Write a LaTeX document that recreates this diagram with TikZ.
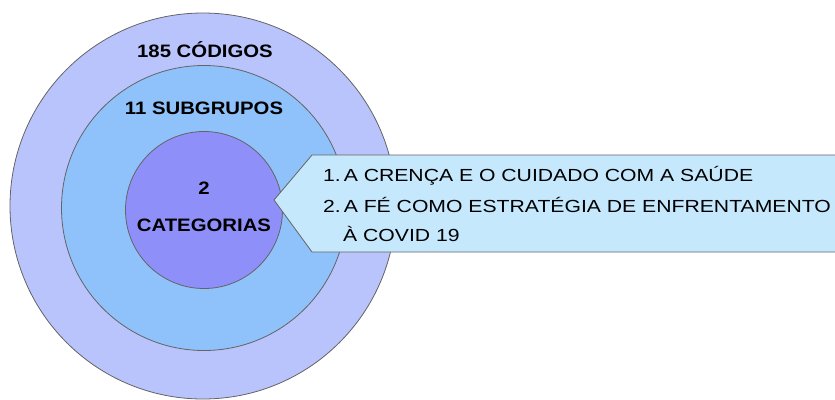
\documentclass[tikz,border=0pt]{standalone}
\usepackage{fontspec}
\setmainfont{Liberation Sans}
\newfontfamily\widefont[FakeStretch=1.21]{Liberation Sans}
\newfontfamily\widebold[FakeStretch=1.13]{Liberation Sans Bold}
\definecolor{outerc}{RGB}{186,196,252}
\definecolor{midc}{RGB}{143,194,250}
\definecolor{innerc}{RGB}{143,143,250}
\definecolor{callc}{RGB}{198,232,253}
\definecolor{edgec}{RGB}{100,100,100}
\begin{document}
\begin{tikzpicture}[x=1pt,y=-1pt,
  ring/.style={draw=edgec,line width=0.8pt},
  lbl/.style={font=\widebold\fontsize{18}{22}\selectfont,inner sep=0pt,align=center},
  calltxt/.style={font=\widefont\fontsize{17.5}{21}\selectfont,inner sep=0pt,anchor=west}]
\useasboundingbox (0,0) rectangle (835,399);
\clip (0,0) rectangle (835,399);
\node[ring,circle,fill=outerc,minimum size=386pt,inner sep=0pt] (outer) at (203,206) {};
\node[ring,circle,fill=midc,minimum size=285pt,inner sep=0pt] (mid) at (204,208) {};
\node[ring,circle,fill=innerc,minimum size=157pt,inner sep=0pt] (inner) at (204,210) {};
\node[lbl] (l1) at (205,50) {185 CÓDIGOS};
\node[lbl] (l2) at (204,108) {11 SUBGRUPOS};
\node[lbl] (l3) at (204,207) {2\\[15pt]CATEGORIAS};
\coordinate (tip) at (274,200);
\draw[draw=edgec,line width=0.8pt,fill=callc] (tip) -- (312,155) -- (840,155) -- (840,252) -- (312,252) -- cycle;
\node[calltxt] (t1) at (323,176) {1.\,A CRENÇA E O CUIDADO COM A SAÚDE};
\node[calltxt] (t2) at (323,205) {2.\,A FÉ COMO ESTRATÉGIA DE ENFRENTAMENTO};
\node[calltxt] (t3) at (343,234) {À COVID 19};
\end{tikzpicture}
\end{document}
